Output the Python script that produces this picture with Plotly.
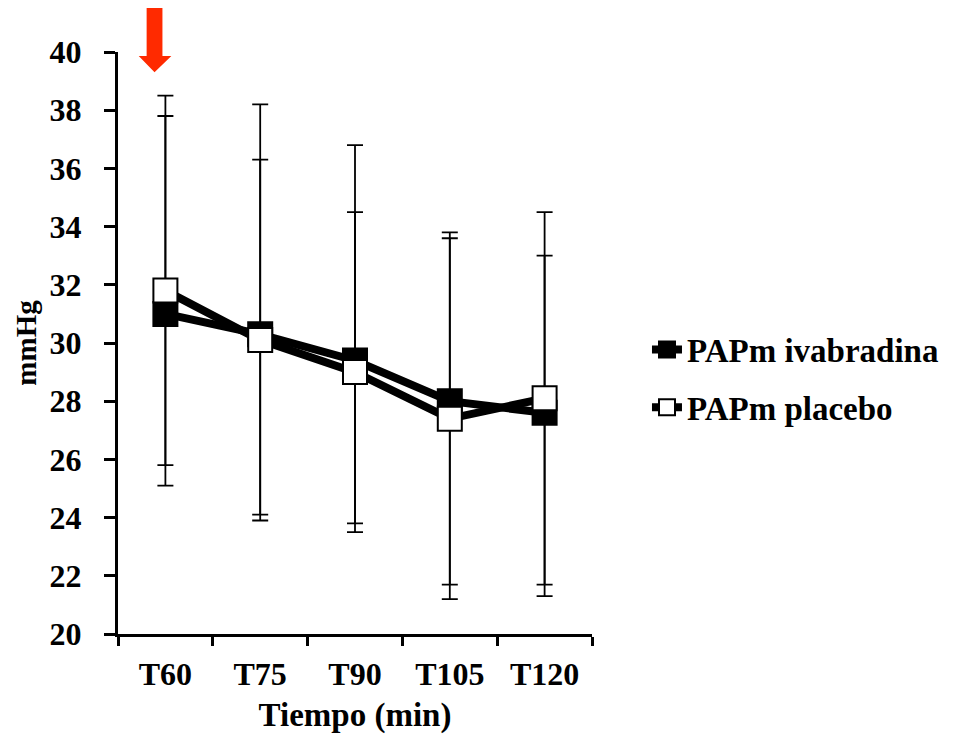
import plotly.graph_objects as go

categories = ["T60", "T75", "T90", "T105", "T120"]
ivab = [31.0, 30.3, 29.4, 28.0, 27.6]
ivab_hi = [37.8, 38.2, 36.8, 33.6, 34.5]
ivab_lo = [25.1, 24.1, 23.5, 21.2, 21.7]
plac = [31.8, 30.1, 29.0, 27.4, 28.1]
plac_hi = [38.5, 36.3, 34.5, 33.8, 33.0]
plac_lo = [25.8, 23.9, 23.8, 21.7, 21.3]

FONT = "Liberation Serif"

def err(vals, hi, lo):
    return dict(type="data", symmetric=False,
                array=[h - v for h, v in zip(hi, vals)],
                arrayminus=[v - l for v, l in zip(vals, lo)],
                color="black", thickness=1.8, width=8)

fig = go.Figure()
fig.add_trace(go.Scatter(
    x=categories, y=ivab, name="PAPm ivabradina", mode="lines+markers", legendgroup="a",
    line=dict(color="black", width=8),
    marker=dict(symbol="square", size=24, color="black", line=dict(color="black", width=2)),
    error_y=err(ivab, ivab_hi, ivab_lo)))
fig.add_trace(go.Scatter(
    x=categories, y=plac, name="PAPm placebo", mode="lines+markers", legendgroup="b",
    line=dict(color="black", width=8),
    marker=dict(symbol="square", size=24, color="white", line=dict(color="black", width=2)),
    error_y=err(plac, plac_hi, plac_lo)))

# red arrow
fig.add_shape(type="path", xref="paper", yref="paper",
              path="M 0.0604,1.0767 L 0.09375,1.0767 L 0.09375,0.993 L 0.1125,0.993 "
                   "L 0.0771,0.965 L 0.04375,0.993 L 0.0604,0.993 Z",
              fillcolor="#FF2A00", line=dict(width=0))

fig.update_layout(
    width=948, height=726, plot_bgcolor="white", paper_bgcolor="white",
    margin=dict(l=110, r=350, t=44, b=100),
    font=dict(family=FONT, size=32, color="black"),
    showlegend=True,
    legend=dict(x=1.116, y=0.439, xanchor="left", yanchor="middle",
                font=dict(family=FONT, size=33, color="black", weight="bold"),
                tracegroupgap=12, itemwidth=30, bgcolor="rgba(0,0,0,0)"),
)
fig.update_xaxes(
    type="category", range=[-0.5, 4.5], showline=True, linecolor="black", linewidth=3,
    ticks="outside", ticklen=9, tickwidth=3, tickcolor="black", tickson="boundaries",
    showgrid=False, zeroline=False, automargin=False,
    tickfont=dict(family=FONT, size=32, weight="bold"), ticklabelstandoff=10,
    title=dict(text="Tiempo (min)", font=dict(family=FONT, size=33, weight="bold"), standoff=15))
fig.update_yaxes(
    range=[20, 40], dtick=2, showline=True, linecolor="black", linewidth=3,
    ticks="outside", ticklen=11, tickwidth=3, tickcolor="black",
    showgrid=False, zeroline=False, automargin=False,
    tickfont=dict(family=FONT, size=32, weight="bold"), ticklabelstandoff=16,
    title=dict(text="mmHg", font=dict(family=FONT, size=29, weight="bold"), standoff=5))

fig.write_html("out.html")
